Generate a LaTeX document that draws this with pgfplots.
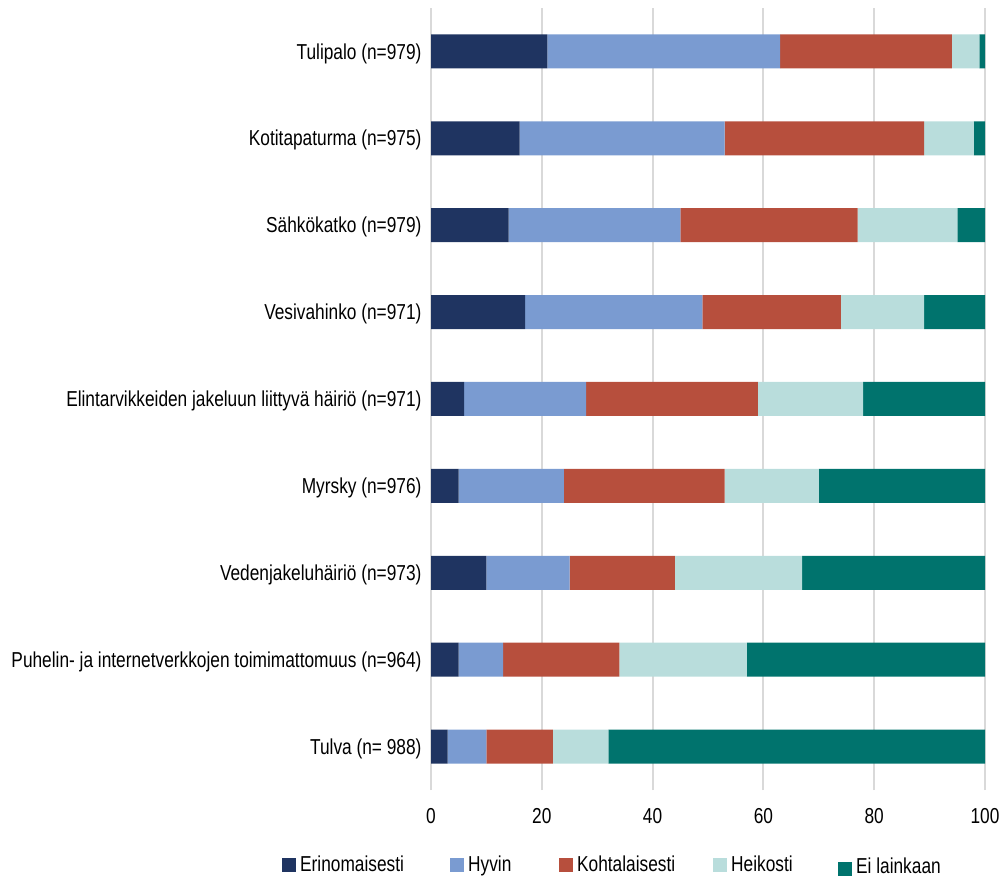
\documentclass[border=0pt]{standalone}
\usepackage{pgfplots}
\pgfplotsset{compat=1.18}
\usepackage{pgfplotstable}
\usepackage{fontspec}
\setmainfont{Liberation Sans}[FakeStretch=0.8]
\definecolor{c1}{HTML}{1F3461}
\definecolor{c2}{HTML}{7A9BD1}
\definecolor{c3}{HTML}{B74F3D}
\definecolor{c4}{HTML}{B9DDDC}
\definecolor{c5}{HTML}{00736D}
\definecolor{gridc}{HTML}{D9D9D9}

\pgfplotstableread{
y a b c d e
0 3 7 12 10 68
1 5 8 21 23 43
2 10 15 19 23 33
3 5 19 29 17 30
4 6 22 31 19 22
5 17 32 25 15 11
6 14 31 32 18 5
7 16 37 36 9 2
8 21 42 31 5 1
}\data

\pgfplotsset{lowsquare/.style={legend image code/.code={\fill[c5,draw=none] (0bp,-11bp) rectangle (14bp,3bp);}}}

\begin{document}
\begin{tikzpicture}
\path[use as bounding box] (0,0) rectangle (1001bp,880bp);
\begin{axis}[
  at={(431bp,90bp)}, anchor=south west,
  scale only axis, width=554bp, height=782bp,
  xbar stacked, bar width=34bp,
  xmin=0, xmax=100, ymin=-0.5, ymax=8.5,
  xtick={0,20,...,100},
  ytick={0,...,8},
  yticklabels={Tulva (n= 988),
    Puhelin- ja internetverkkojen toimimattomuus (n=964),
    Vedenjakeluhäiriö (n=973),
    Myrsky (n=976),
    Elintarvikkeiden jakeluun liittyvä häiriö (n=971),
    Vesivahinko (n=971),
    Sähkökatko (n=979),
    Kotitapaturma (n=975),
    Tulipalo (n=979)},
  xmajorgrids,
  major grid style={color=gridc, line width=2bp},
  axis line style={draw=none},
  tick style={draw=none},
  /pgf/number format/assume math mode=true,
  tick label style={font=\fontsize{21.7}{24}\selectfont, text=black},
  yticklabel style={xshift=-6bp, yshift=-2bp},
  xticklabel style={yshift=-15bp},
  legend columns=5,
  legend style={at={(-0.2744,-0.0972)}, anchor=west, draw=none, fill=none,
    font=\fontsize{21.7}{24}\selectfont, column sep=0pt,
    nodes={inner xsep=4bp, inner ysep=0pt, anchor=west}},
  legend image code/.code={\fill[#1,draw=none] (0bp,-7bp) rectangle (14bp,7bp);},
  every axis plot/.append style={draw=none},
]
\addplot[fill=c1] table[x=a,y=y]{\data};
\addplot[fill=c2] table[x=b,y=y]{\data};
\addplot[fill=c3] table[x=c,y=y]{\data};
\addplot[fill=c4] table[x=d,y=y]{\data};
\addplot[fill=c5, lowsquare] table[x=e,y=y]{\data};
\legend{\makebox[146bp][l]{Erinomaisesti},\makebox[87bp][l]{Hyvin},\makebox[132bp][l]{Kohtalaisesti},\makebox[103bp][l]{Heikosti},\makebox[100bp][l]{\raisebox{-4bp}{Ei lainkaan}}}
\end{axis}
\end{tikzpicture}
\end{document}
